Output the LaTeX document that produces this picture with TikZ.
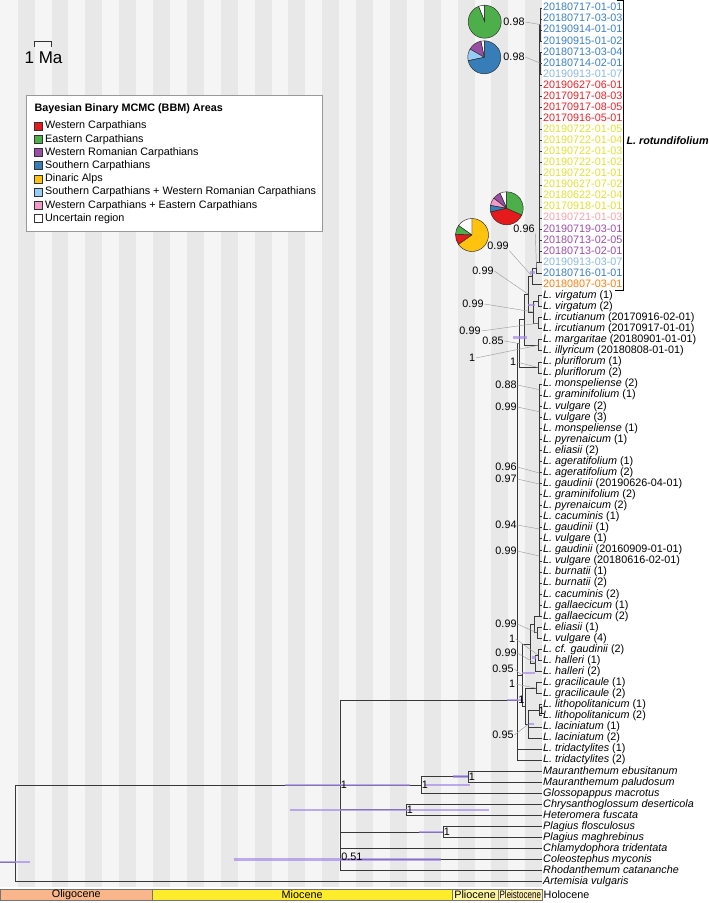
\documentclass[tikz,border=0pt]{standalone}
\usepackage{fontspec}
\setmainfont{Liberation Sans}
% area colours
\definecolor{wcarp}{HTML}{E41A1C}
\definecolor{ecarp}{HTML}{4DAF4A}
\definecolor{wrcarp}{HTML}{984EA3}
\definecolor{scarp}{HTML}{377EB8}
\definecolor{dinalp}{HTML}{FFC20E}
\definecolor{swrcarp}{HTML}{99CCF5}
\definecolor{wecarp}{HTML}{F59AC8}
% tip label colours
\definecolor{tipblue}{HTML}{3D80C6}
\definecolor{tiplblue}{HTML}{8CB9E3}
\definecolor{tipred}{HTML}{EC2229}
\definecolor{tipyellow}{HTML}{E2E035}
\definecolor{tippink}{HTML}{F5A3AA}
\definecolor{tippurple}{HTML}{9C4EA8}
\definecolor{tiporange}{HTML}{FF7F0F}
% background, bars, epochs
\definecolor{stripe}{HTML}{E8E8E8}
\definecolor{stripelight}{HTML}{F5F5F5}
\definecolor{hpdcol}{HTML}{A48BEA}
\definecolor{oligo}{HTML}{F9B68A}
\definecolor{mio}{HTML}{FFEC2B}
\definecolor{plio}{HTML}{FFF59B}
\definecolor{pleisto}{HTML}{FFF1B3}

\tikzset{
  treeline/.style={draw=black!78, line width=0.8pt},
  leadline/.style={draw=gray!75, line width=0.45pt},
  hpd/.style={draw=hpdcol, line width=2.6pt, opacity=0.7},
  tiplab/.style={anchor=west, inner sep=1pt, text height=7.8pt, text depth=2.1pt, font=\fontsize{10.8}{12}\selectfont},
  supp/.style={inner sep=0.6pt, font=\fontsize{10.8}{12}\selectfont},
  pieslice/.style={draw=black!85, line width=0.45pt},
  geobox/.style={draw=black!55, line width=0.5pt, font=\fontsize{10.8}{12}\selectfont},
  legsq/.style={draw=black!80, line width=0.5pt},
  legtxt/.style={anchor=west, inner sep=0pt, font=\fontsize{10.8}{12}\selectfont}
}

\begin{document}
\begin{tikzpicture}[x=1pt,y=-1pt]
\useasboundingbox (0,0) rectangle (709,903);
\fill[white] (0,0) rectangle (709,903);

% 1 Ma stripes
\fill[stripelight] (0,0) rectangle (542.2,887);
\foreach \m in {0,...,15} \fill[stripe] ({17.7+33.84*\m},0) rectangle ({34.62+33.84*\m},887);

% scale
\draw[black!80, line width=0.8pt] (34,47) -- (34,41) -- (51,41) -- (51,47);
\node[font=\fontsize{17}{20}\selectfont] (scalelab) at (43.5,58) {1 Ma};

% legend
\draw[fill=white, draw=gray!80, line width=0.8pt] (26,95) rectangle (322,231);
\node[legtxt, font=\fontsize{10.8}{12}\selectfont\bfseries] (legtitle) at (34.3,108.3) {Bayesian Binary MCMC (BBM) Areas};
\foreach \c/\txt [count=\k] in {wcarp/Western Carpathians, ecarp/Eastern Carpathians, wrcarp/Western Romanian Carpathians, scarp/Southern Carpathians, dinalp/Dinaric Alps, swrcarp/Southern Carpathians + Western Romanian Carpathians, wecarp/Western Carpathians + Eastern Carpathians, white/Uncertain region}
{
  \draw[legsq, fill=\c] (34.3,{122+13.2*(\k-1)}) rectangle ++(8,8);
  \node[legtxt] (leg\k) at (45,{126.2+13.2*(\k-1)}) {\txt};
}

% tips
\node[tiplab, text=tipblue] (r1) at (542,8.00) {20180717-01-01};
\node[tiplab, text=tipblue] (r2) at (542,19.06) {20180717-03-03};
\node[tiplab, text=tipblue] (r3) at (542,30.12) {20190914-01-01};
\node[tiplab, text=tipblue] (r4) at (542,41.18) {20190915-01-02};
\node[tiplab, text=tipblue] (r5) at (542,52.24) {20180713-03-04};
\node[tiplab, text=tipblue] (r6) at (542,63.30) {20180714-02-01};
\node[tiplab, text=tiplblue] (r7) at (542,74.36) {20190913-01-07};
\node[tiplab, text=tipred] (r8) at (542,85.42) {20190627-06-01};
\node[tiplab, text=tipred] (r9) at (542,96.48) {20170917-08-03};
\node[tiplab, text=tipred] (r10) at (542,107.54) {20170917-08-05};
\node[tiplab, text=tipred] (r11) at (542,118.60) {20170916-05-01};
\node[tiplab, text=tipyellow] (r12) at (542,129.66) {20190722-01-05};
\node[tiplab, text=tipyellow] (r13) at (542,140.72) {20190722-01-04};
\node[tiplab, text=tipyellow] (r14) at (542,151.78) {20190722-01-03};
\node[tiplab, text=tipyellow] (r15) at (542,162.84) {20190722-01-02};
\node[tiplab, text=tipyellow] (r16) at (542,173.90) {20190722-01-01};
\node[tiplab, text=tipyellow] (r17) at (542,184.96) {20190627-07-02};
\node[tiplab, text=tipyellow] (r18) at (542,196.02) {20180622-02-04};
\node[tiplab, text=tipyellow] (r19) at (542,207.08) {20170918-01-01};
\node[tiplab, text=tippink] (r20) at (542,218.14) {20190721-01-03};
\node[tiplab, text=tippurple] (r21) at (542,229.20) {20190719-03-01};
\node[tiplab, text=tippurple] (r22) at (542,240.26) {20180713-02-05};
\node[tiplab, text=tippurple] (r23) at (542,251.32) {20180713-02-01};
\node[tiplab, text=tiplblue] (r24) at (542,262.38) {20190913-03-07};
\node[tiplab, text=tipblue] (r25) at (542,273.44) {20180716-01-01};
\node[tiplab, text=tiporange] (r26) at (542,284.50) {20180807-03-01};
\node[tiplab] (vir1) at (542,295.56) {\textit{L. virgatum} (1)};
\node[tiplab] (vir2) at (542,306.62) {\textit{L. virgatum} (2)};
\node[tiplab] (irc1) at (542,317.68) {\textit{L. ircutianum} (20170916-02-01)};
\node[tiplab] (irc2) at (542,328.74) {\textit{L. ircutianum} (20170917-01-01)};
\node[tiplab] (mar) at (542,339.80) {\textit{L. margaritae} (20180901-01-01)};
\node[tiplab] (ill) at (542,350.86) {\textit{L. illyricum} (20180808-01-01)};
\node[tiplab] (plu1) at (542,361.92) {\textit{L. pluriflorum} (1)};
\node[tiplab] (plu2) at (542,372.98) {\textit{L. pluriflorum} (2)};
\node[tiplab] (mon2) at (542,384.04) {\textit{L. monspeliense} (2)};
\node[tiplab] (gra1) at (542,395.10) {\textit{L. graminifolium} (1)};
\node[tiplab] (vul2) at (542,406.16) {\textit{L. vulgare} (2)};
\node[tiplab] (vul3) at (542,417.22) {\textit{L. vulgare} (3)};
\node[tiplab] (mon1) at (542,428.28) {\textit{L. monspeliense} (1)};
\node[tiplab] (pyr1) at (542,439.34) {\textit{L. pyrenaicum} (1)};
\node[tiplab] (eli2) at (542,450.40) {\textit{L. eliasii} (2)};
\node[tiplab] (age1) at (542,461.46) {\textit{L. ageratifolium} (1)};
\node[tiplab] (age2) at (542,472.52) {\textit{L. ageratifolium} (2)};
\node[tiplab] (gauA) at (542,483.58) {\textit{L. gaudinii} (20190626-04-01)};
\node[tiplab] (gra2) at (542,494.64) {\textit{L. graminifolium} (2)};
\node[tiplab] (pyr2) at (542,505.70) {\textit{L. pyrenaicum} (2)};
\node[tiplab] (cac1) at (542,516.76) {\textit{L. cacuminis} (1)};
\node[tiplab] (gau1) at (542,527.82) {\textit{L. gaudinii} (1)};
\node[tiplab] (vul1) at (542,538.88) {\textit{L. vulgare} (1)};
\node[tiplab] (gauB) at (542,549.94) {\textit{L. gaudinii} (20160909-01-01)};
\node[tiplab] (vulB) at (542,561.00) {\textit{L. vulgare} (20180616-02-01)};
\node[tiplab] (bur1) at (542,572.06) {\textit{L. burnatii} (1)};
\node[tiplab] (bur2) at (542,583.12) {\textit{L. burnatii} (2)};
\node[tiplab] (cac2) at (542,594.18) {\textit{L. cacuminis} (2)};
\node[tiplab] (gal1) at (542,605.24) {\textit{L. gallaecicum} (1)};
\node[tiplab] (gal2) at (542,616.30) {\textit{L. gallaecicum} (2)};
\node[tiplab] (eli1) at (542,627.36) {\textit{L. eliasii} (1)};
\node[tiplab] (vul4) at (542,638.42) {\textit{L. vulgare} (4)};
\node[tiplab] (cfg) at (542,649.48) {\textit{L. cf. gaudinii} (2)};
\node[tiplab] (hal1) at (542,660.54) {\textit{L. halleri} (1)};
\node[tiplab] (hal2) at (542,671.60) {\textit{L. halleri} (2)};
\node[tiplab] (grc1) at (542,682.66) {\textit{L. gracilicaule} (1)};
\node[tiplab] (grc2) at (542,693.72) {\textit{L. gracilicaule} (2)};
\node[tiplab] (lit1) at (542,704.78) {\textit{L. lithopolitanicum} (1)};
\node[tiplab] (lit2) at (542,715.84) {\textit{L. lithopolitanicum} (2)};
\node[tiplab] (lac1) at (542,726.90) {\textit{L. laciniatum} (1)};
\node[tiplab] (lac2) at (542,737.96) {\textit{L. laciniatum} (2)};
\node[tiplab] (tri1) at (542,749.02) {\textit{L. tridactylites} (1)};
\node[tiplab] (tri2) at (542,760.08) {\textit{L. tridactylites} (2)};
\node[tiplab] (maueb) at (542,771.14) {\textit{Mauranthemum ebusitanum}};
\node[tiplab] (maupa) at (542,782.20) {\textit{Mauranthemum paludosum}};
\node[tiplab] (glo) at (542,793.26) {\textit{Glossopappus macrotus}};
\node[tiplab] (chr) at (542,804.32) {\textit{Chrysanthoglossum deserticola}};
\node[tiplab] (het) at (542,815.38) {\textit{Heteromera fuscata}};
\node[tiplab] (plafl) at (542,826.44) {\textit{Plagius flosculosus}};
\node[tiplab] (plama) at (542,837.50) {\textit{Plagius maghrebinus}};
\node[tiplab] (chl) at (542,848.56) {\textit{Chlamydophora tridentata}};
\node[tiplab] (col) at (542,859.62) {\textit{Coleostephus myconis}};
\node[tiplab] (rho) at (542,870.68) {\textit{Rhodanthemum catananche}};
\node[tiplab] (art) at (542,881.74) {\textit{Artemisia vulgaris}};

% internal nodes
\coordinate (S1) at (540.6,24.59);
\coordinate (S2) at (540.6,63.30);
\coordinate (BIG) at (539.3,262.38);
\coordinate (RB) at (536.5,267.91);
\coordinate (RT) at (532,276.2);
\coordinate (VI) at (538,301.09);
\coordinate (IR) at (538,323.21);
\coordinate (V) at (533,311.9);
\coordinate (RV) at (528,294.05);
\coordinate (MI) at (538,345.33);
\coordinate (A1) at (524,319.69);
\coordinate (PL) at (538,367.45);
\coordinate (A2) at (519.5,343.57);
\coordinate (VG) at (539.3,616.3);
\coordinate (vg1) at (539.3,389.6);
\coordinate (vg2) at (539.3,411.7);
\coordinate (vg3) at (539.3,473);
\coordinate (vg4) at (539.3,484);
\coordinate (vg5) at (539.3,529);
\coordinate (vg6) at (539.3,556);
\coordinate (EV) at (537,632.89);
\coordinate (VGE) at (534.5,624.6);
\coordinate (HA) at (538,655.01);
\coordinate (HB) at (535.5,663.3);
\coordinate (VH) at (530.5,643.95);
\coordinate (GR) at (536,688.19);
\coordinate (LI) at (539,710.31);
\coordinate (LL) at (528.5,724.1);
\coordinate (GLL) at (525.5,706.1);
\coordinate (UP2) at (522,675);
\coordinate (C0) at (517.5,700);
\coordinate (MA) at (468,776.67);
\coordinate (MG) at (421,784.97);
\coordinate (CH) at (406,809.85);
\coordinate (PG) at (443,831.97);
\coordinate (N051) at (340.6,859.62);
\coordinate (N1) at (340,784.97);
\coordinate (ROOT) at (15,862);
\coordinate (rootedge) at (0,862);

% branches
\foreach \t in {r1,r2,r3,r4} \draw[treeline] (S1) |- (\t.west);
\foreach \t in {r5,r6,r7} \draw[treeline] (S2) |- (\t.west);
\foreach \i in {8,...,24} \draw[treeline] (BIG) |- (r\i.west);
\draw[treeline] (BIG) |- (S1);
\draw[treeline] (BIG) |- (S2);
\draw[treeline] (RB) |- (BIG);
\draw[treeline] (RB) |- (r25.west);
\draw[treeline] (RT) |- (RB);
\draw[treeline] (RT) |- (r26.west);
\draw[treeline] (VI) |- (vir1.west);
\draw[treeline] (VI) |- (vir2.west);
\draw[treeline] (IR) |- (irc1.west);
\draw[treeline] (IR) |- (irc2.west);
\draw[treeline] (V) |- (VI);
\draw[treeline] (V) |- (IR);
\draw[treeline] (RV) |- (RT);
\draw[treeline] (RV) |- (V);
\draw[treeline] (MI) |- (mar.west);
\draw[treeline] (MI) |- (ill.west);
\draw[treeline] (A1) |- (RV);
\draw[treeline] (A1) |- (MI);
\draw[treeline] (PL) |- (plu1.west);
\draw[treeline] (PL) |- (plu2.west);
\draw[treeline] (A2) |- (A1);
\draw[treeline] (A2) |- (PL);
\foreach \t in {mon2,gra1,vul2,vul3,mon1,pyr1,eli2,age1,age2,gauA,gra2,pyr2,cac1,gau1,vul1,gauB,vulB,bur1,bur2,cac2,gal1,gal2}
  \draw[treeline] (VG) |- (\t.west);
\draw[treeline] (EV) |- (eli1.west);
\draw[treeline] (EV) |- (vul4.west);
\draw[treeline] (VGE) |- (VG);
\draw[treeline] (VGE) |- (EV);
\draw[treeline] (HA) |- (cfg.west);
\draw[treeline] (HA) |- (hal1.west);
\draw[treeline] (HB) |- (HA);
\draw[treeline] (HB) |- (hal2.west);
\draw[treeline] (VH) |- (VGE);
\draw[treeline] (VH) |- (HB);
\draw[treeline] (GR) |- (grc1.west);
\draw[treeline] (GR) |- (grc2.west);
\draw[treeline] (LI) |- (lit1.west);
\draw[treeline] (LI) |- (lit2.west);
\draw[treeline] (LL) |- (LI);
\draw[treeline] (LL) |- (lac1.west);
\draw[treeline] (LL) |- (lac2.west);
\draw[treeline] (GLL) |- (GR);
\draw[treeline] (GLL) |- (LL);
\draw[treeline] (UP2) |- (VH);
\draw[treeline] (UP2) |- (GLL);
\draw[treeline] (C0) |- (A2);
\draw[treeline] (C0) |- (UP2);
\draw[treeline] (C0) |- (tri1.west);
\draw[treeline] (C0) |- (tri2.west);
\draw[treeline] (MA) |- (maueb.west);
\draw[treeline] (MA) |- (maupa.west);
\draw[treeline] (MG) |- (MA);
\draw[treeline] (MG) |- (glo.west);
\draw[treeline] (CH) |- (chr.west);
\draw[treeline] (CH) |- (het.west);
\draw[treeline] (PG) |- (plafl.west);
\draw[treeline] (PG) |- (plama.west);
\draw[treeline] (N051) |- (CH);
\draw[treeline] (N051) |- (PG);
\draw[treeline] (N051) |- (chl.west);
\draw[treeline] (N051) |- (col.west);
\draw[treeline] (N051) |- (rho.west);
\draw[treeline] (N1) |- (C0);
\draw[treeline] (N1) |- (MG);
\draw[treeline] (N1) |- (N051);
\draw[treeline] (ROOT) |- (N1);
\draw[treeline] (ROOT) |- (art.west);
\draw[treeline] (rootedge) -- (ROOT);

% node age bars
\draw[hpd] (rootedge) -- ([xshift=30pt]rootedge);
\draw[hpd] ([xshift=-55pt]N1) -- ([xshift=70pt]N1);
\draw[hpd] ([xshift=-15pt]MA) -- (MA);
\draw[hpd] ([xshift=4pt]MG) -- ([xshift=49pt]MG);
\draw[hpd] ([xshift=-116pt]CH) -- ([xshift=83pt]CH);
\draw[hpd] ([xshift=-24pt]PG) -- (PG);
\draw[hpd] ([xshift=-107pt]N051) -- ([xshift=100pt]N051);
\draw[hpd] ([xshift=-10.5pt]C0) -- ([xshift=4.5pt]C0);
\draw[hpd] ([xshift=0pt,yshift=2pt]UP2) -- ([xshift=13pt,yshift=2pt]UP2);
\draw[hpd] ([xshift=-3.5pt,yshift=6pt]HB) -- ([xshift=0pt,yshift=6pt]HB);
\draw[hpd] (LL) -- ([xshift=5pt]LL);
\draw[hpd] ([xshift=-6.5pt,yshift=6pt]A2) -- ([xshift=7.5pt,yshift=6pt]A2);
\draw[hpd] ([xshift=-5pt,yshift=7pt]V) -- ([xshift=2pt,yshift=7pt]V);
\draw[hpd] ([xshift=-2pt,yshift=4pt]RT) -- ([xshift=3pt,yshift=4pt]RT);

% support values
\node[supp] (s98a) at (514,22) {0.98};
\node[supp] (s98b) at (514,57) {0.98};
\node[supp] (s96r) at (524,229) {0.96};
\node[supp] (s99a) at (498,246) {0.99};
\node[supp] (s99b) at (483,271) {0.99};
\node[supp] (s99c) at (473,304) {0.99};
\node[supp] (s99d) at (470,331) {0.99};
\node[supp] (s85) at (493,341) {0.85};
\node[supp] (s1a) at (472,358) {1};
\node[supp] (s1b) at (513,362) {1};
\node[supp] (s88) at (506,385) {0.88};
\node[supp] (s99e) at (506,407) {0.99};
\node[supp] (s96) at (506,467) {0.96};
\node[supp] (s97) at (506,479) {0.97};
\node[supp] (s94) at (506,525) {0.94};
\node[supp] (s99f) at (506,551) {0.99};
\node[supp] (s99g) at (506,624) {0.99};
\node[supp] (s1c) at (512,639) {1};
\node[supp] (s99h) at (506,653) {0.99};
\node[supp] (s95a) at (503,669) {0.95};
\node[supp] (s1d) at (512,684) {1};
\node[supp] (s95b) at (503,735) {0.95};
\draw[leadline] (s98a.east) -- (S1);
\draw[leadline] (s98b.east) -- (S2);
\draw[leadline] (s96r.south east) -- (RB);
\draw[leadline] (s99a.south east) -- (RT);
\draw[leadline] (s99b.east) -- (RV);
\draw[leadline] (s99c.east) -- (V);
\draw[leadline] (s99d.east) -- (IR);
\draw[leadline] (s85.east) -- (A2);
\draw[leadline] (s1a.east) -- (MI);
\draw[leadline] (s1b.east) -- (PL);
\draw[leadline] (s88.east) -- (vg1);
\draw[leadline] (s99e.east) -- (vg2);
\draw[leadline] (s96.east) -- (vg3);
\draw[leadline] (s97.east) -- (vg4);
\draw[leadline] (s94.east) -- (vg5);
\draw[leadline] (s99f.east) -- (vg6);
\draw[leadline] (s99g.east) -- (EV);
\draw[leadline] (s1c.east) -- (HA);
\draw[leadline] (s99h.east) -- (HB);
\draw[leadline] (s95a.east) -- (UP2);
\draw[leadline] (s1d.east) -- (GR);
\draw[leadline] (s95b.east) -- (LL);
\node[supp, anchor=west, inner sep=0pt] (sLI) at (538.3,711) {1};
\node[supp, anchor=west] (sC0) at (C0) {1};
\node[supp, anchor=west] (sMA) at (MA) {1};
\node[supp, anchor=west] (sMG) at (MG) {1};
\node[supp, anchor=west] (sCH) at (CH) {1};
\node[supp, anchor=west] (sPG) at (PG) {1};
\node[supp, anchor=west] (sN1) at (N1) {1};
\node[supp, anchor=west] (sN051) at ([yshift=3pt]N051) {0.51};

% ancestral area pies
\coordinate (P1) at (484.7,21.7);
\coordinate (P2) at (484.3,57.3);
\coordinate (P3) at (506.7,208.3);
\coordinate (P4) at (472,235);
\filldraw[pieslice, fill=white] (P1) -- ++(90:16.5pt) arc (90:112:16.5pt) -- cycle;
\filldraw[pieslice, fill=ecarp] (P1) -- ++(112:16.5pt) arc (112:450:16.5pt) -- cycle;
\filldraw[pieslice, fill=white] (P2) -- ++(90:16.5pt) arc (90:102:16.5pt) -- cycle;
\filldraw[pieslice, fill=wrcarp] (P2) -- ++(102:16.5pt) arc (102:150:16.5pt) -- cycle;
\filldraw[pieslice, fill=swrcarp] (P2) -- ++(150:16.5pt) arc (150:192:16.5pt) -- cycle;
\filldraw[pieslice, fill=scarp] (P2) -- ++(192:16.5pt) arc (192:450:16.5pt) -- cycle;
\filldraw[pieslice, fill=white] (P3) -- ++(90:16.5pt) arc (90:114:16.5pt) -- cycle;
\filldraw[pieslice, fill=wrcarp] (P3) -- ++(114:16.5pt) arc (114:142:16.5pt) -- cycle;
\filldraw[pieslice, fill=wecarp] (P3) -- ++(142:16.5pt) arc (142:170:16.5pt) -- cycle;
\filldraw[pieslice, fill=scarp] (P3) -- ++(170:16.5pt) arc (170:193:16.5pt) -- cycle;
\filldraw[pieslice, fill=wcarp] (P3) -- ++(193:16.5pt) arc (193:336:16.5pt) -- cycle;
\filldraw[pieslice, fill=ecarp] (P3) -- ++(336:16.5pt) arc (336:450:16.5pt) -- cycle;
\filldraw[pieslice, fill=white] (P4) -- ++(90:16.5pt) arc (90:145:16.5pt) -- cycle;
\filldraw[pieslice, fill=ecarp] (P4) -- ++(145:16.5pt) arc (145:178:16.5pt) -- cycle;
\filldraw[pieslice, fill=wcarp] (P4) -- ++(178:16.5pt) arc (178:215:16.5pt) -- cycle;
\filldraw[pieslice, fill=dinalp] (P4) -- ++(215:16.5pt) arc (215:450:16.5pt) -- cycle;

% clade bracket
\coordinate (brtop) at (623.5,0.8);
\coordinate (brbot) at (623.5,290);
\draw[black, line width=1pt] ([xshift=-7pt]brtop) -- (brtop) -- (brbot) -- ([xshift=-9pt]brbot);
\node[anchor=west, inner sep=0pt, font=\fontsize{10.8}{12}\selectfont\bfseries\itshape] (rotlab) at (626.3,141) {L. rotundifolium};

% epochs
\draw[geobox, fill=oligo] (0,889) rectangle (152.5,900.5) node[midway] {Oligocene};
\draw[geobox, fill=mio] (152.5,889) rectangle (451.8,900.5) node[midway] {Miocene};
\draw[geobox, fill=plio] (451.8,889) rectangle (498.4,900.5) node[midway] {Pliocene};
\draw[geobox, fill=pleisto] (498.4,889) rectangle (542.2,900.5) node[midway] {\scalebox{0.74}[1]{Pleistocene}};
\node[anchor=west, inner sep=1pt, font=\fontsize{10.8}{12}\selectfont] (holo) at (542.5,895) {Holocene};
\end{tikzpicture}
\end{document}
